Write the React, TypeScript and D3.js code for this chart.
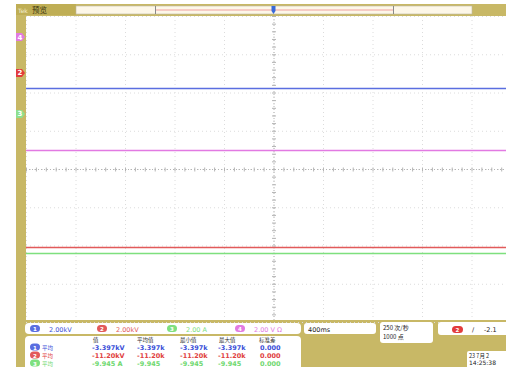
import React from "react";
import * as d3 from "d3";

// Screen geometry (divisions): 10 horizontal, 8 vertical
const hDivs = d3.range(0, 11);
const vDivs = d3.range(-4, 5);

// Channel traces: level in divisions from screen centre
const channels = ["1", "2", "3", "4"];
const channelColors = ["#5a6ee0", "#e25a5a", "#7ee07e", "#e27ae2"];
const traceLevels = [2.12, -2.03, -2.2, 0.5];
// Ground-reference markers on the left edge (divisions)
const markerChannels = ["4", "2", "3"];
const markerLevels = [3.45, 2.51, 1.44];
const markerColors = ["#e27ae2", "#e23c3c", "#8ee08e"];

// Vertical scale settings
const scaleLabels = ["2.00kV", "2.00kV", "2.00 A", "2.00 V Ω"];

// Measurement table
const measHeaders = ["值", "平均值", "最小值", "最大值", "标准差"];
const measRows = [
  ["-3.397kV", "-3.397k", "-3.397k", "-3.397k", "0.000"],
  ["-11.20kV", "-11.20k", "-11.20k", "-11.20k", "0.000"],
  ["-9.945 A", "-9.945", "-9.945", "-9.945", "0.000"],
];
const measColors = ["#3a4fd8", "#e04040", "#6fd86f"];

const timebase = "400ms";
const acqLines = ["250 次/秒", "1000 点"];
const trigText = "-2.1";
const dateLines = ["23 7月 2", "14:25:38"];

const W = 506;
const H = 367;
const OLIVE = "#c8b866";
const CJK = "'Noto Sans CJK SC', sans-serif";
const LATIN = "'DejaVu Sans', sans-serif";

export default function App() {
  const left = 26;
  const right = 521;
  const top = 16;
  const bottom = 322;
  const x = d3.scaleLinear().domain([0, 10]).range([left, right]);
  const y = d3.scaleLinear().domain([-4, 4]).range([bottom, top]);
  const xMinor = d3.range(0, 10.01, 0.2);
  const yMinor = d3.range(-4, 4.01, 0.2);

  return (
    <svg
      width={W}
      height={H}
      style={{ position: "absolute", left: 0, top: 0, display: "block" }}
      fontFamily={LATIN}
    >
      <rect width={W} height={H} fill="#ffffff" />
      {/* frame */}
      <rect x={16} y={4} width={W - 16} height={H - 4} fill={OLIVE} />
      <rect x={left} y={top} width={W - left} height={320 - top} fill="#ffffff" />

      {/* grid */}
      <g stroke="#dcdcdc" strokeWidth={1} strokeDasharray="1,3">
        {hDivs.map((d) => (
          <line key={"gx" + d} x1={x(d) + 0.5} x2={x(d) + 0.5} y1={top} y2={320} />
        ))}
        {vDivs.map((d) => (
          <line key={"gy" + d} y1={y(d) + 0.5} y2={y(d) + 0.5} x1={left} x2={W} />
        ))}
      </g>
      {/* centre crosshair with minor ticks */}
      <g stroke="#b4b4b4" strokeWidth={1}>
        <line x1={x(5) + 0.5} x2={x(5) + 0.5} y1={top} y2={320} strokeDasharray="1,2" />
        <line y1={y(0) + 0.5} y2={y(0) + 0.5} x1={left} x2={W} strokeDasharray="1,2" />
        {xMinor.map((d) => (
          <line key={"tx" + d} x1={x(d) + 0.5} x2={x(d) + 0.5} y1={y(0) - 1.5} y2={y(0) + 2.5} />
        ))}
        {yMinor.filter((d) => y(d) < 320).map((d) => (
          <line key={"ty" + d} y1={y(d) + 0.5} y2={y(d) + 0.5} x1={x(5) - 1.5} x2={x(5) + 2.5} />
        ))}
      </g>

      {/* traces */}
      {traceLevels.map((lv, i) => (
        <line
          key={"tr" + i}
          x1={left}
          x2={W}
          y1={Math.round(y(lv)) + 0.5}
          y2={Math.round(y(lv)) + 0.5}
          stroke={channelColors[i]}
          strokeWidth={1.6}
        />
      ))}

      {/* ground markers */}
      {markerLevels.map((lv, i) => {
        const yy = y(lv);
        return (
          <g key={"mk" + i}>
            <path d={`M16,${yy - 4} h6 l3,4 l-3,4 h-6 z`} fill={markerColors[i]} />
            <text x={20} y={yy + 2.5} fontSize={7} fill="#ffffff" textAnchor="middle" fontWeight="bold">
              {markerChannels[i]}
            </text>
          </g>
        );
      })}

      {/* top record-view bar */}
      <rect x={16} y={4} width={60} height={11} fill="#bfae55" />
      <text x={18} y={12.5} fontSize={6} fill="#f2eccc">Tek</text>
      <text x={32} y={13} fontSize={7.5} fill="#3a3410" fontFamily={CJK}>预览</text>
      <rect x={76} y={6} width={396} height={8} fill="#fdf7e8" stroke="#bdb7a4" strokeWidth={0.6} />
      <line x1={155} x2={393} y1={10} y2={10} stroke="#f0a0a0" strokeWidth={1} />
      <line x1={155.5} x2={155.5} y1={6} y2={14} stroke="#8a8a8a" strokeWidth={1} />
      <line x1={393.5} x2={393.5} y1={6} y2={14} stroke="#8a8a8a" strokeWidth={1} />
      <path d={`M${x(5) - 2},6 h4 v5 l-2,3 l-2,-3 z`} fill="#3a6ad8" />

      {/* channel scale strip */}
      <rect x={25} y={323} width={276} height={11} rx={4} fill="#ffffff" />
      {scaleLabels.map((s, i) => {
        const bx = [30, 97, 167, 235][i];
        return (
          <g key={"sc" + i}>
            <rect x={bx} y={325} width={10} height={7} rx={3.5} fill={channelColors[i]} />
            <text x={bx + 5} y={331} fontSize={5.5} fill="#ffffff" textAnchor="middle" fontWeight="bold">
              {channels[i]}
            </text>
            <text x={bx + 19} y={331.5} fontSize={6.5} fill={i === 0 ? "#3a4fd8" : channelColors[i]}>
              {s}
            </text>
          </g>
        );
      })}

      {/* timebase / acquisition / trigger boxes */}
      <rect x={304} y={323} width={72} height={11} rx={3} fill="#ffffff" />
      <text x={308} y={331.5} fontSize={6.5} fill="#222">{timebase}</text>
      <rect x={380} y={322} width={53} height={21} rx={3} fill="#ffffff" />
      <text x={383} y={330} fontSize={6} fill="#222" fontFamily={CJK}>{acqLines[0]}</text>
      <text x={383} y={339} fontSize={6} fill="#222" fontFamily={CJK}>{acqLines[1]}</text>
      <rect x={438} y={322} width={80} height={13} rx={3} fill="#ffffff" />
      <rect x={452} y={326} width={11} height={7} rx={3.5} fill="#e23c3c" />
      <text x={457.5} y={332} fontSize={5.5} fill="#ffffff" textAnchor="middle" fontWeight="bold">2</text>
      <text x={472} y={332} fontSize={6.5} fill="#222">/</text>
      <text x={484} y={332} fontSize={6.5} fill="#222">{trigText}</text>

      {/* measurement table */}
      <rect x={25} y={336} width={276} height={40} rx={4} fill="#ffffff" />
      {measHeaders.map((h, j) => (
        <text key={"mh" + j} x={[93, 137, 180, 219, 259][j]} y={341.5} fontSize={5.5} fill="#333" fontFamily={CJK}>
          {h}
        </text>
      ))}
      {measRows.map((row, i) => {
        const ry = 349.5 + i * 8;
        return (
          <g key={"mr" + i}>
            <rect x={30} y={ry - 6} width={10} height={7} rx={3.5} fill={channelColors[i]} />
            <text x={35} y={ry} fontSize={5.5} fill="#ffffff" textAnchor="middle" fontWeight="bold">
              {channels[i]}
            </text>
            <text x={42} y={ry} fontSize={5.5} fill={measColors[i]} fontFamily={CJK}>平均</text>
            {row.map((v, j) => (
              <text
                key={"mv" + j}
                x={[92, 137, 180, 218, 260][j]}
                y={ry}
                fontSize={6.5}
                fill={measColors[i]}
                fontWeight="bold"
              >
                {v}
              </text>
            ))}
          </g>
        );
      })}

      {/* date/time */}
      <rect x={467} y={351} width={50} height={20} rx={2} fill="#ffffff" />
      <text x={469} y={357.5} fontSize={5.5} fill="#222" fontFamily={CJK}>{dateLines[0]}</text>
      <text x={469} y={365} fontSize={6} fill="#222">{dateLines[1]}</text>
    </svg>
  );
}
